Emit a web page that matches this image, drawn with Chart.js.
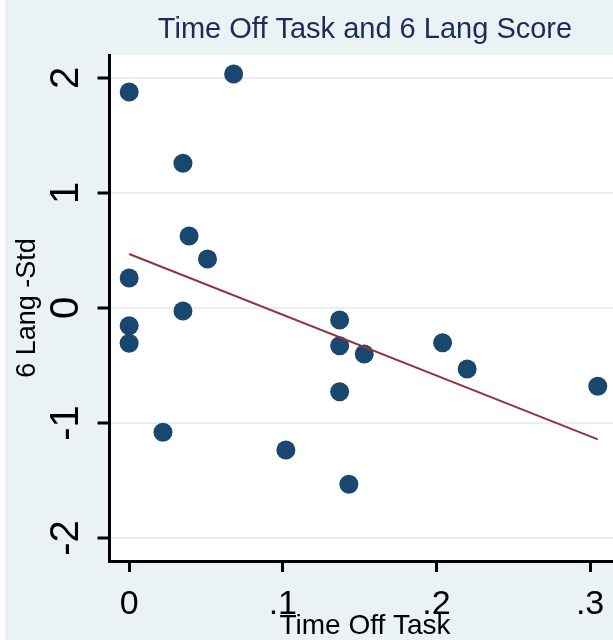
<!DOCTYPE html>
<html>
<head>
<meta charset="utf-8">
<title>Time Off Task and 6 Lang Score</title>
<script src="https://cdn.jsdelivr.net/npm/chart.js@4/dist/chart.umd.min.js"></script>
<style>
  html, body { margin: 0; padding: 0; background: #ffffff; overflow: hidden; }
  #wrap { position: absolute; left: 5px; top: 0; width: 625px; height: 640px; }
  canvas { display: block; }
</style>
</head>
<body>
<div id="wrap"><canvas id="chart" width="625" height="640"></canvas></div>
<script>
// Share of time off task for each pupil
const timeOffTask = [0, 0.068, 0.035, 0.039, 0.051, 0, 0.035, 0, 0, 0.022,
                     0.102, 0.137, 0.137, 0.153, 0.137, 0.143, 0.204, 0.220, 0.305];
// Standardised grade-6 language score for each pupil
const langScoreStd = [1.878, 2.035, 1.258, 0.626, 0.426, 0.261, -0.026, -0.154, -0.307, -1.081,
                      -1.235, -0.104, -0.328, -0.400, -0.728, -1.533, -0.302, -0.530, -0.681];
// Fitted line (linear fit) at the ends of the observed range
const fitX = [0, 0.305];
const fitY = [0.470, -1.142];

const xTicks = [0, 0.1, 0.2, 0.3];
const xTickLabels = ['0', '.1', '.2', '.3'];
const yTicks = [-2, -1, 0, 1, 2];
const yTickLabels = ['-2', '-1', '0', '1', '2'];

const FONT = '"Liberation Sans", Arial, sans-serif';

// Stata-like backgrounds: grey-blue graph region, white plot region
const regionFill = {
  id: 'regionFill',
  beforeDraw(chart) {
    const { ctx, chartArea: a, width, height } = chart;
    ctx.save();
    ctx.fillStyle = '#eaf2f3';
    ctx.fillRect(0, 0, width, height);
    ctx.fillStyle = '#ffffff';
    ctx.fillRect(a.left, a.top, a.right - a.left, a.bottom - a.top);
    ctx.restore();
  }
};

new Chart(document.getElementById('chart'), {
  type: 'scatter',
  data: {
    datasets: [
      {
        type: 'line',
        label: 'Fitted values',
        data: fitX.map((x, i) => ({ x, y: fitY[i] })),
        borderColor: '#90353b',
        borderWidth: 2,
        pointRadius: 0,
        fill: false,
        order: 0
      },
      {
        label: '6 Lang -Std',
        data: timeOffTask.map((x, i) => ({ x, y: langScoreStd[i] })),
        backgroundColor: '#1a476f',
        borderColor: '#1a476f',
        borderWidth: 0,
        pointRadius: 9.5,
        pointHoverRadius: 9.5,
        pointStyle: 'circle',
        order: 1
      }
    ]
  },
  options: {
    responsive: false,
    animation: false,
    devicePixelRatio: 1,
    layout: { padding: { left: 0, right: 6, top: 0, bottom: 0 } },
    plugins: {
      legend: { display: false },
      tooltip: { enabled: false },
      title: {
        display: true,
        fullSize: false,
        text: 'Time Off Task and 6 Lang Score',
        color: '#1c2b5a',
        font: { family: FONT, size: 29, weight: 'normal', lineHeight: 1.2 },
        padding: { top: 12.6, bottom: 7.6 }
      }
    },
    scales: {
      x: {
        type: 'linear',
        position: 'bottom',
        min: -0.0128,
        max: 0.3198,
        afterBuildTicks: s => { s.ticks = xTicks.map(v => ({ value: v })); },
        afterFit: s => { s.height = 79; },
        ticks: {
          callback: (v, i) => xTickLabels[i],
          minRotation: 0,
          maxRotation: 0,
          autoSkip: false,
          padding: 12,
          color: '#000',
          font: { family: FONT, size: 34 }
        },
        grid: {
          drawOnChartArea: false,
          drawTicks: true,
          tickLength: 11,
          tickWidth: 3,
          tickColor: '#000'
        },
        border: { display: true, color: '#000', width: 3 },
        title: {
          display: true,
          text: 'Time Off Task',
          color: '#000',
          font: { family: FONT, size: 28, lineHeight: 1 },
          padding: { top: 0, bottom: 0 }
        }
      },
      y: {
        type: 'linear',
        position: 'left',
        min: -2.2,
        max: 2.2,
        afterBuildTicks: s => { s.ticks = yTicks.map(v => ({ value: v })); },
        afterFit: s => { s.width = 104.5; },
        ticks: {
          callback: (v, i) => yTickLabels[i],
          minRotation: 90,
          maxRotation: 90,
          crossAlign: 'center',
          autoSkip: false,
          padding: 13,
          color: '#000',
          font: { family: FONT, size: 40 }
        },
        grid: {
          color: '#e8eff2',
          lineWidth: 2,
          drawTicks: true,
          tickLength: 12,
          tickWidth: 3,
          tickColor: '#000'
        },
        border: { display: true, color: '#000', width: 3 },
        title: {
          display: true,
          text: '6 Lang -Std',
          color: '#000',
          font: { family: FONT, size: 27, lineHeight: 1 },
          padding: { top: 9, bottom: 0 }
        }
      }
    }
  },
  plugins: [regionFill]
});
</script>
</body>
</html>
